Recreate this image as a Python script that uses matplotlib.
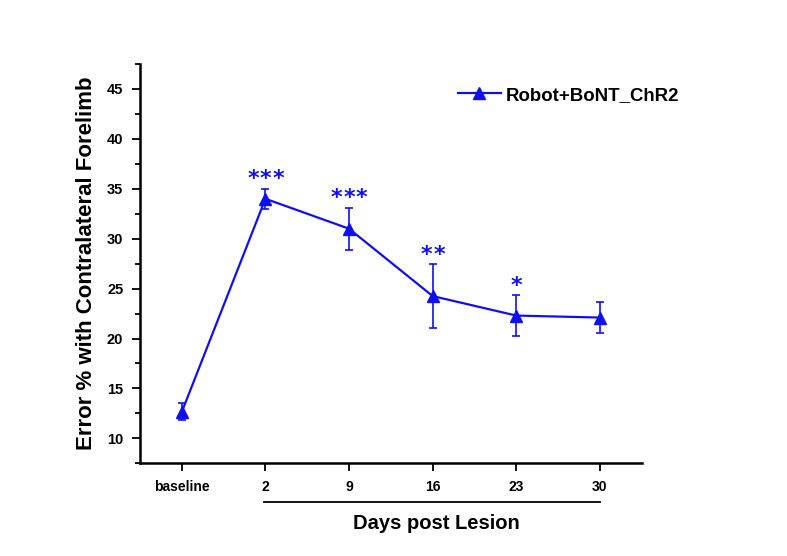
import numpy as np
import matplotlib.pyplot as plt
from matplotlib.ticker import MultipleLocator

plt.rcParams['font.family'] = ['Liberation Sans', 'DejaVu Sans']

# data
days = ['baseline', '2', '9', '16', '23', '30']
error_pct = [12.65, 34.0, 31.0, 24.25, 22.3, 22.1]
sem = [0.85, 1.0, 2.1, 3.2, 2.05, 1.55]
n_stars = [0, 3, 3, 2, 1, 0]

blue = '#1010ee'

fig = plt.figure(figsize=(7.87, 5.56), dpi=100)
ax = fig.add_axes([0.1779, 0.1667, 0.8154 - 0.1779, 0.8849 - 0.1667])

x = np.arange(len(days))
ax.errorbar(x, error_pct, yerr=sem, fmt='none', ecolor=blue,
            elinewidth=1.2, capsize=3, capthick=1.2)
ax.plot(x, error_pct, color=blue, lw=1.6, marker='^', ms=8,
        label='Robot+BoNT_ChR2')

# significance stars, drawn one by one so they are spaced apart
for xi, yi, ei, n in zip(x, error_pct, sem, n_stars):
    for k in range(n):
        dx = (k - (n - 1) / 2) * 9.0
        ax.annotate('*', (xi, yi + ei), xytext=(dx, 2.5), textcoords='offset points',
                    ha='center', va='baseline', color=blue, fontsize=16,
                    family='DejaVu Sans', fontweight='bold')

ax.set_xlim(-0.5, 5.5)
ax.set_ylim(7.5, 47.5)
ax.set_xticks(x)
ax.set_xticklabels(days, fontweight='bold', fontsize=10)
ax.yaxis.set_minor_locator(MultipleLocator(2.5))
ax.set_yticks(np.arange(10, 46, 5))
for lab in ax.get_yticklabels():
    lab.set_fontweight('bold')
    lab.set_fontsize(10.5)

for side in ['top', 'right']:
    ax.spines[side].set_visible(False)
for side in ['left', 'bottom']:
    ax.spines[side].set_linewidth(1.8)
ax.tick_params(axis='both', which='major', direction='out', length=6, width=1.3, pad=6)
ax.tick_params(axis='y', which='minor', direction='out', length=3.5, width=1.3)

ax.set_ylabel('Error % with Contralateral Forelimb', fontsize=16,
              fontweight='bold', labelpad=7)

# underline for days post lesion + label
ax.plot([0.98, 5.0], [-0.097, -0.097], color='black', lw=1.3,
        transform=ax.get_xaxis_transform(), clip_on=False)
ax.text(3.04, -0.15, 'Days post Lesion', transform=ax.get_xaxis_transform(),
        ha='center', va='center', fontsize=14.5, fontweight='bold')

leg = ax.legend(loc='upper left', bbox_to_anchor=(0.6, 0.985), frameon=False,
                prop={'weight': 'bold', 'size': 13.4}, handlelength=2.3,
                handletextpad=0.3)

plt.savefig('out.png', dpi=100)
